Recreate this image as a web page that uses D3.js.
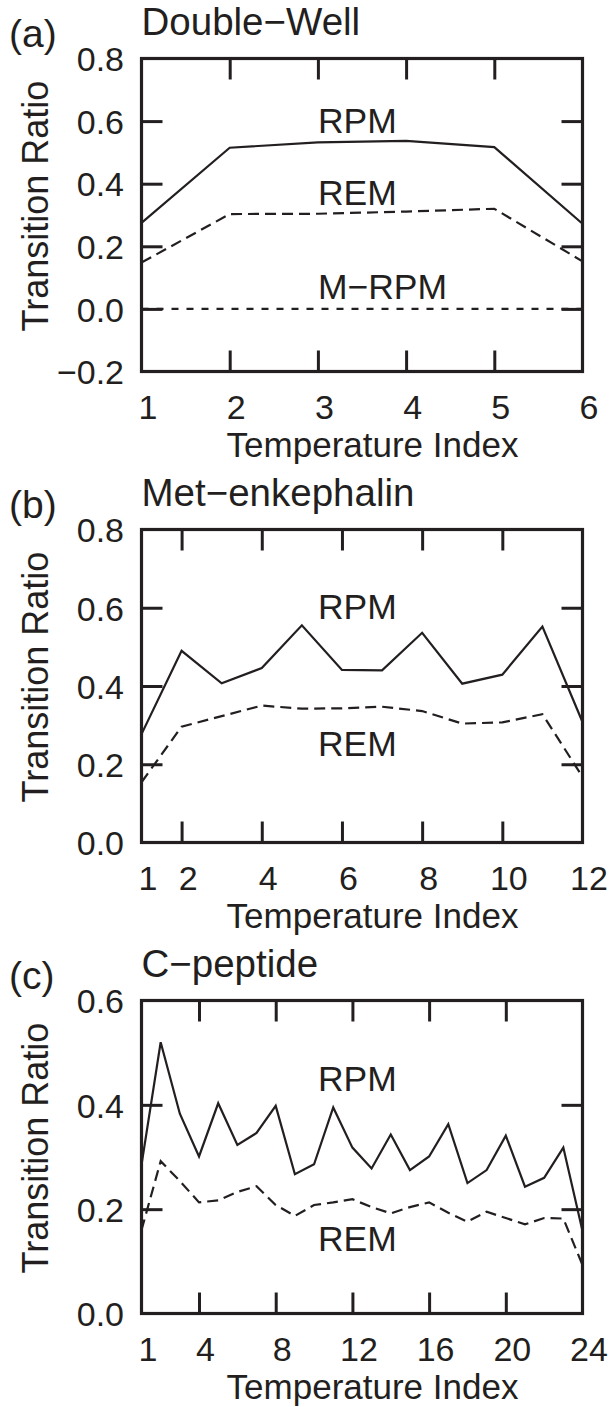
<!DOCTYPE html>
<html><head><meta charset="utf-8">
<script src="https://cdn.jsdelivr.net/npm/d3@7"></script>
<style>
html,body{margin:0;padding:0;background:#fff;}
text{font-family:"Liberation Sans",Arial,Helvetica,sans-serif;fill:#231f20;}
</style>
</head><body>
<svg id="chart" width="613" height="1407"></svg>
<script>
// ---------- data ----------
const dwIndex = [1,2,3,4,5,6];
const dwRPM  = [0.275,0.515,0.532,0.537,0.517,0.272];
const dwREM  = [0.148,0.303,0.304,0.311,0.320,0.152];
const dwMRPM = [0,0,0,0,0,0];
const dwYTicks = [-0.2,0.0,0.2,0.4,0.6,0.8];
const dwXTicks = [1,2,3,4,5,6];

const meIndex = [1,2,3,4,5,6,7,8,9,10,11,12];
const meRPM = [0.277,0.490,0.407,0.446,0.555,0.441,0.440,0.536,0.406,0.429,0.552,0.308];
const meREM = [0.154,0.296,0.323,0.350,0.342,0.343,0.347,0.336,0.304,0.307,0.328,0.168];
const meYTicks = [0.0,0.2,0.4,0.6,0.8];
const meXTicks = [1,2,4,6,8,10,12];

const cpIndex = [1,2,3,4,5,6,7,8,9,10,11,12,13,14,15,16,17,18,19,20,21,22,23,24];
const cpRPM = [0.285,0.520,0.383,0.301,0.403,0.323,0.346,0.398,0.267,0.286,0.395,0.318,0.278,0.343,0.275,0.301,0.363,0.250,0.275,0.341,0.243,0.260,0.318,0.158];
const cpREM = [0.160,0.292,0.254,0.213,0.217,0.233,0.244,0.208,0.187,0.208,0.213,0.219,0.204,0.192,0.204,0.213,0.193,0.176,0.195,0.183,0.171,0.183,0.182,0.093];
const cpYTicks = [0.0,0.2,0.4,0.6];
const cpXTicks = [1,4,8,12,16,20,24];

const seriesNames = ["RPM","REM","M\u2212RPM"];
const panelTags = ["(a)","(b)","(c)"];
const panelTitles = ["Double\u2212Well","Met\u2212enkephalin","C\u2212peptide"];
// label anchor positions in data coordinates [x, y]
const dwLabelPos = [[3,0.563],[3,0.331],[3,0.032]];
const meLabelPos = [[5.4,0.570],[5.4,0.222]];
const cpLabelPos = [[10.2,0.427],[10.2,0.120]];

// ---------- layout ----------
const INK = "#231f20";
const L = 141.5, R = 582.5, H = 313;
const tops = [58.5, 529.5, 1000.5];
const TICK = 21;
const dashes = [null, "11,6", "7,8"];

const panels = [
  {idx: dwIndex, series: [dwRPM, dwREM, dwMRPM], yTicks: dwYTicks, xTicks: dwXTicks, lab: dwLabelPos},
  {idx: meIndex, series: [meRPM, meREM], yTicks: meYTicks, xTicks: meXTicks, lab: meLabelPos},
  {idx: cpIndex, series: [cpRPM, cpREM], yTicks: cpYTicks, xTicks: cpXTicks, lab: cpLabelPos}
];

const svg = d3.select("#chart");

panels.forEach((p, pi) => {
  const g = svg.append("g").attr("transform", `translate(0,${tops[pi]})`);
  const x = d3.scaleLinear().domain(d3.extent(p.idx)).range([L, R]);
  const y = d3.scaleLinear().domain(d3.extent(p.yTicks)).range([H, 0]);
  const innerX = p.xTicks.filter(v => v > x.domain()[0] && v < x.domain()[1]);
  const innerY = p.yTicks.filter(v => v > y.domain()[0] && v < y.domain()[1]);

  // inward ticks on all four sides
  const tickAxes = [
    [d3.axisBottom(x).tickValues(innerX), `translate(0,${H})`],
    [d3.axisTop(x).tickValues(innerX), `translate(0,0)`],
    [d3.axisLeft(y).tickValues(innerY), `translate(${L},0)`],
    [d3.axisRight(y).tickValues(innerY), `translate(${R},0)`]
  ];
  tickAxes.forEach(([ax, tr]) => {
    const a = g.append("g").attr("transform", tr)
      .call(ax.tickSize(-TICK).tickSizeOuter(0).tickFormat(""));
    a.select(".domain").remove();
    a.selectAll("line").attr("stroke", INK).attr("stroke-width", 3);
  });

  // x tick labels
  const xl = g.append("g").attr("transform", `translate(0,${H})`)
    .call(d3.axisBottom(x).tickValues(p.xTicks).tickSize(0).tickFormat(d3.format("d")));
  xl.select(".domain").remove();
  xl.selectAll("text").attr("y", 47.4).attr("dy", null).attr("x", 6)
    .attr("font-size", 34).style("fill", INK);

  // y tick labels
  const yl = g.append("g").attr("transform", `translate(${L},0)`)
    .call(d3.axisLeft(y).tickValues(p.yTicks).tickSize(0).tickFormat(d3.format(".1f")));
  yl.select(".domain").remove();
  yl.selectAll("text").attr("x", -(L - 124)).attr("dy", "0.36em")
    .attr("font-size", 34).style("fill", INK);
  g.selectAll("g").attr("font-family", null).attr("font-size", null);

  // lines
  const line = d3.line().x((d, i) => x(p.idx[i])).y(d => y(d));
  p.series.forEach((vals, si) => {
    g.append("path").datum(vals)
      .attr("d", line)
      .attr("fill", "none")
      .attr("stroke", INK)
      .attr("stroke-width", 2.2)
      .attr("stroke-linejoin", "miter")
      .attr("stroke-dasharray", dashes[si]);
  });

  // box
  g.append("rect").attr("x", L).attr("y", 0).attr("width", R - L).attr("height", H)
    .attr("fill", "none").attr("stroke", INK).attr("stroke-width", 3.2);

  // series labels
  p.lab.forEach((pos, si) => {
    g.append("text").attr("x", x(pos[0])).attr("y", y(pos[1]))
      .attr("font-size", 35.5).text(seriesNames[si]);
  });

  // titles
  g.append("text").attr("x", L).attr("y", -24).attr("font-size", 38.5).text(panelTitles[pi]);
  g.append("text").attr("x", 9).attr("y", -11.5).attr("font-size", 39).text(panelTags[pi]);

  // axis titles
  g.append("text").attr("x", 372.5).attr("y", H + 85).attr("text-anchor", "middle")
    .attr("font-size", 35).text("Temperature Index");
  g.append("text").attr("transform", `translate(48,${H / 2 - 9}) rotate(-90)`)
    .attr("text-anchor", "middle").attr("font-size", 36).text("Transition Ratio");
});
</script>
</body></html>
